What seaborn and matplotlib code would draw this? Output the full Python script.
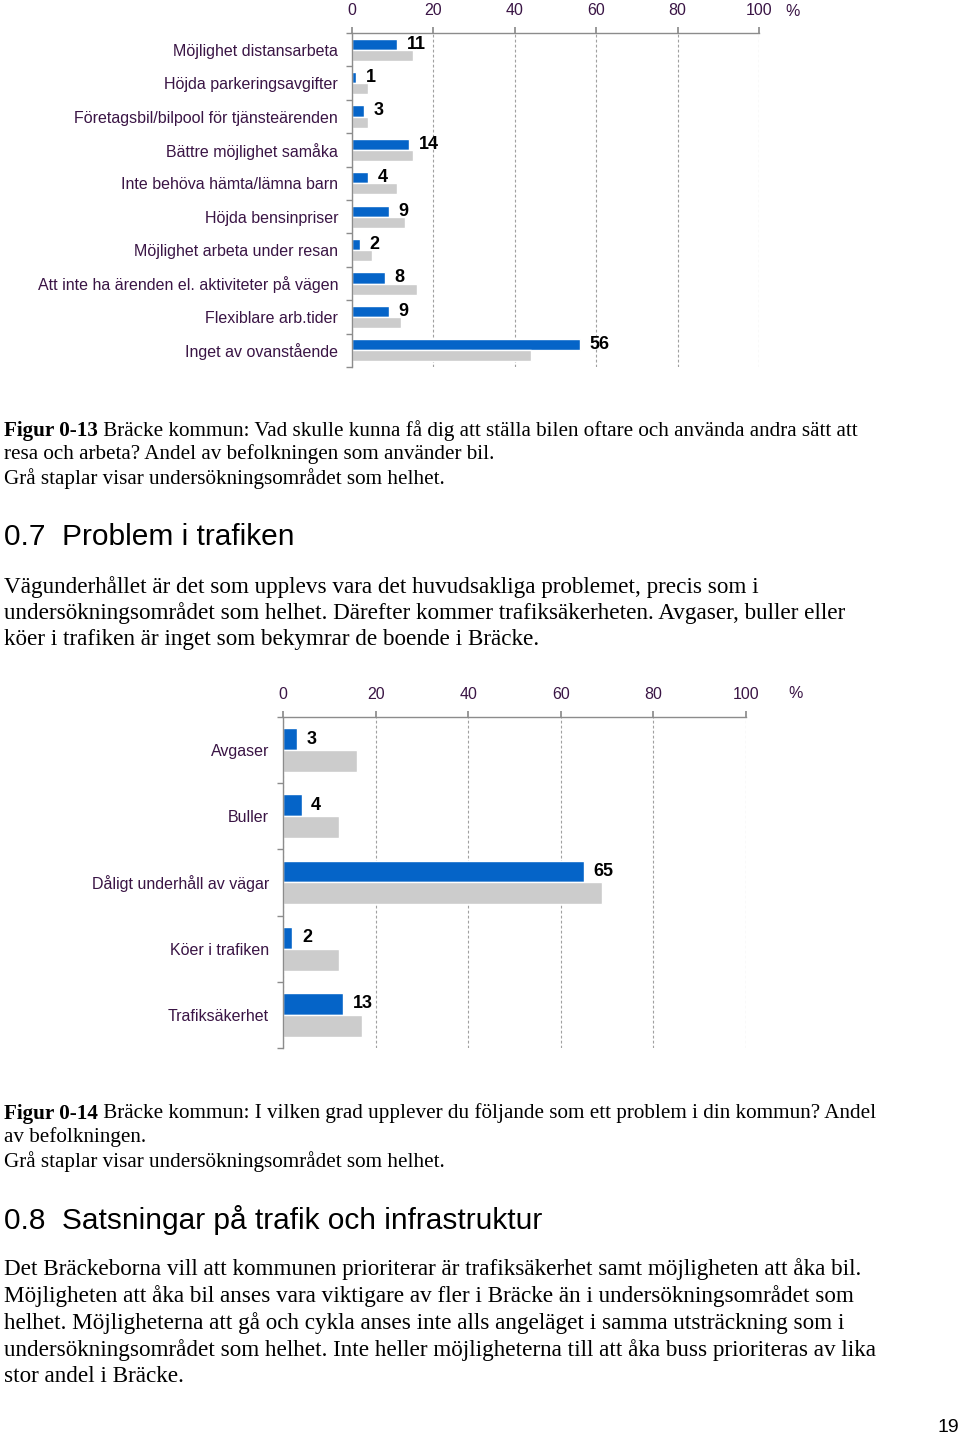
import numpy as np
import pandas as pd
import matplotlib
matplotlib.use("Agg")
import matplotlib.pyplot as plt
import seaborn as sns

# ---------------- data ----------------
cats1 = ["Möjlighet distansarbeta", "Höjda parkeringsavgifter",
         "Företagsbil/bilpool för tjänsteärenden", "Bättre möjlighet samåka",
         "Inte behöva hämta/lämna barn", "Höjda bensinpriser",
         "Möjlighet arbeta under resan", "Att inte ha ärenden el. aktiviteter på vägen",
         "Flexiblare arb.tider", "Inget av ovanstående"]
bracke1 = [11, 1, 3, 14, 4, 9, 2, 8, 9, 56]
hela1 = [15, 4, 4, 15, 11, 13, 5, 16, 12, 44]

cats2 = ["Avgaser", "Buller", "Dåligt underhåll av vägar", "Köer i trafiken", "Trafiksäkerhet"]
bracke2 = [3, 4, 65, 2, 13]
hela2 = [16, 12, 69, 12, 17]

xticks = [0, 20, 40, 60, 80, 100]
series_names = ["Bräcke", "Undersökningsområdet"]

BLUE = "#0564c8"
GRAY = "#cccccc"
LBL = "#3a1545"
AXC = "#8c8c8c"

W, H = 960, 1438
sns.set_theme(style="white")
plt.rcParams['font.family'] = ['Liberation Sans', 'DejaVu Sans']

fig = plt.figure(figsize=(W / 100, H / 100), dpi=100)


def axes_px(left, top, right, bottom):
    return fig.add_axes([left / W, 1 - bottom / H, (right - left) / W, (bottom - top) / H])


def draw_chart(ax, cats, b, h, pct_xy):
    df = pd.DataFrame({"cat": cats * 2,
                       "val": list(b) + list(h),
                       "serie": [series_names[0]] * len(cats) + [series_names[1]] * len(cats)})
    sns.barplot(data=df, y="cat", x="val", hue="serie", orient="h",
                palette=[BLUE, GRAY], width=0.66, saturation=1, legend=False, ax=ax)
    n = len(cats)
    ax.set_xlim(0, 100)
    ax.set_ylim(n - 0.5, -0.5)
    ax.set_xlabel("")
    ax.set_ylabel("")
    ax.xaxis.tick_top()
    ax.set_xticks(xticks)
    ax.set_xticklabels([str(t) for t in xticks])
    ax.tick_params(axis="x", which="major", length=4, color=AXC, direction="out",
                   pad=7, labelsize=11.5, labelcolor=LBL)
    ax.set_yticks(np.arange(n))
    ax.set_yticklabels(cats)
    ax.tick_params(axis="y", which="major", length=0, pad=10, labelsize=11.5, labelcolor=LBL)
    ax.set_yticks(np.arange(-0.5, n, 1.0), minor=True)
    ax.tick_params(axis="y", which="minor", length=4, color=AXC, direction="out", left=True)
    ax.xaxis.grid(True, linestyle=(0, (2.5, 2)), color="#a0a0a0", linewidth=0.8)
    ax.yaxis.grid(False)
    ax.set_axisbelow(True)
    for s in ["right", "bottom"]:
        ax.spines[s].set_visible(False)
    for s in ["top", "left"]:
        ax.spines[s].set_visible(True)
        ax.spines[s].set_color(AXC)
        ax.spines[s].set_linewidth(1.0)
    ax.bar_label(ax.containers[0], labels=[str(v) for v in b], padding=7,
                 fontsize=13, fontweight="bold", color="black")
    fig.text(pct_xy[0] / W, 1 - pct_xy[1] / H, "%", fontsize=11.5, color=LBL,
             ha="center", va="center")


ax1 = axes_px(352, 33, 759, 367)
draw_chart(ax1, cats1, bracke1, hela1, (793, 11))
ax2 = axes_px(283, 717, 746, 1048)
draw_chart(ax2, cats2, bracke2, hela2, (796, 694))

# ---------------- page text ----------------
SERIF = ['Liberation Serif', 'DejaVu Serif']
SANS = ['Liberation Sans', 'DejaVu Sans']
renderer = fig.canvas.get_renderer()


def line(x, y, parts, size, family):
    cx = x
    for txt, weight in parts:
        t = fig.text(cx / W, 1 - y / H, txt, fontsize=size, fontweight=weight,
                     family=family, ha="left", va="center_baseline", color="black")
        bb = t.get_window_extent(renderer=renderer)
        cx += bb.width


cap_size = 15.2
para_size = 16.7
head_size = 21.5

line(4, 428, [("Figur 0-13", "bold"), (" Bräcke kommun: Vad skulle kunna få dig att ställa bilen oftare och använda andra sätt att", "normal")], cap_size, SERIF)
line(4, 452, [("resa och arbeta? Andel av befolkningen som använder bil.", "normal")], cap_size, SERIF)
line(4, 476, [("Grå staplar visar undersökningsområdet som helhet.", "normal")], cap_size, SERIF)

line(4, 534, [("0.7  Problem i trafiken", "normal")], head_size, SANS)

line(4, 585, [("Vägunderhållet är det som upplevs vara det huvudsakliga problemet, precis som i", "normal")], para_size, SERIF)
line(4, 611, [("undersökningsområdet som helhet. Därefter kommer trafiksäkerheten. Avgaser, buller eller", "normal")], para_size, SERIF)
line(4, 637, [("köer i trafiken är inget som bekymrar de boende i Bräcke.", "normal")], para_size, SERIF)

line(4, 1111, [("Figur 0-14", "bold"), (" Bräcke kommun: I vilken grad upplever du följande som ett problem i din kommun? Andel", "normal")], cap_size, SERIF)
line(4, 1135, [("av befolkningen.", "normal")], cap_size, SERIF)
line(4, 1159, [("Grå staplar visar undersökningsområdet som helhet.", "normal")], cap_size, SERIF)

line(4, 1217, [("0.8  Satsningar på trafik och infrastruktur", "normal")], head_size, SANS)

para2 = ["Det Bräckeborna vill att kommunen prioriterar är trafiksäkerhet samt möjligheten att åka bil.",
         "Möjligheten att åka bil anses vara viktigare av fler i Bräcke än i undersökningsområdet som",
         "helhet. Möjligheterna att gå och cykla anses inte alls angeläget i samma utsträckning som i",
         "undersökningsområdet som helhet. Inte heller möjligheterna till att åka buss prioriteras av lika",
         "stor andel i Bräcke."]
for i, s in enumerate(para2):
    line(4, 1267 + i * 26.75, [(s, "normal")], para_size, SERIF)

fig.text(959 / W, 1 - 1428 / H, "19", fontsize=14, family=SANS, ha="right",
         va="center", color="black")

fig.savefig("out.png", dpi=100)
